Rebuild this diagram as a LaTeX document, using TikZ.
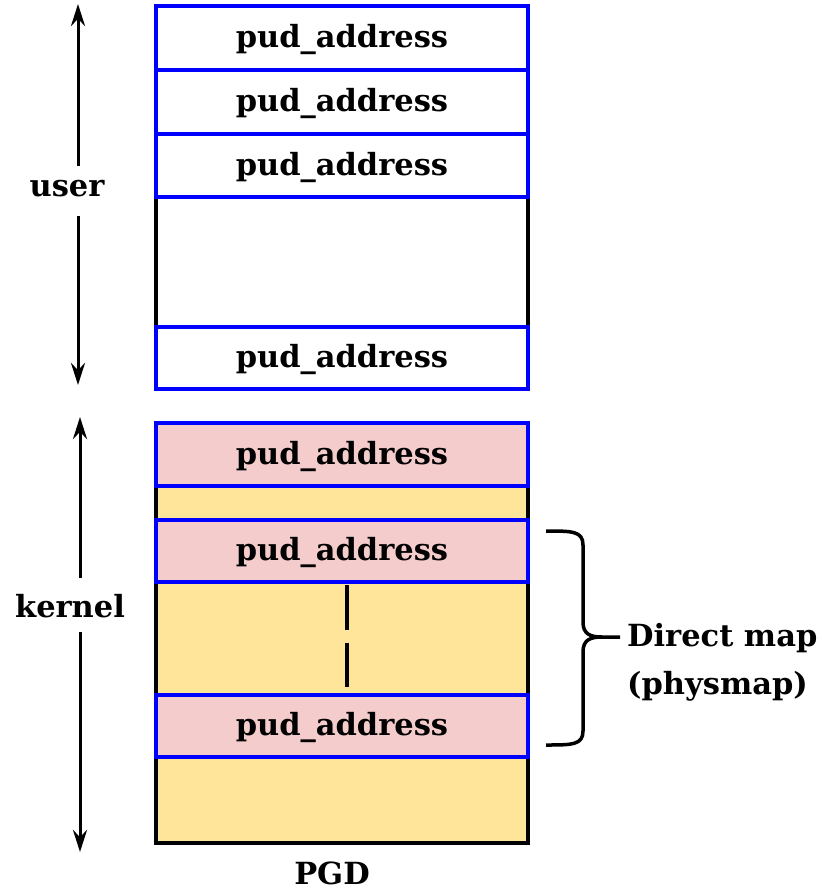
\documentclass[tikz,border=0pt]{standalone}
\usepackage{fontspec}
\setmainfont{DejaVu Serif}
\usetikzlibrary{arrows.meta}
\definecolor{cellblue}{RGB}{0,0,255}
\definecolor{pinkfill}{RGB}{244,204,204}
\definecolor{yellowfill}{RGB}{255,229,153}
\begin{document}
\begin{tikzpicture}[x=1pt,y=-1pt,
  txt/.style={font=\bfseries\fontsize{30.5}{48}\selectfont},
  cell/.style={draw=cellblue,line width=3.5pt,minimum width=372pt,inner sep=0pt,txt,
    text depth=4pt},
  lbl/.style={txt,inner sep=2pt},
  outer/.style={draw=black,line width=3.5pt},
  span/.style={line width=3pt,-{Stealth[length=22pt,width=14pt]}}]
\useasboundingbox (0,0) rectangle (821,893);
% user table
\draw[outer,fill=white] (156,6) rectangle (528,389);
\node[cell,fill=white,minimum height=64pt] (u1) at (342,38) {pud\_address};
\node[cell,fill=white,minimum height=64pt] (u2) at (342,102) {pud\_address};
\node[cell,fill=white,minimum height=63pt] (u3) at (342,165.5) {pud\_address};
\node[cell,fill=white,minimum height=62pt] (u4) at (342,358) {pud\_address};
% kernel table
\draw[outer,fill=yellowfill] (156,423) rectangle (528,843);
\node[cell,fill=pinkfill,minimum height=63pt] (k1) at (342,454.5) {pud\_address};
\node[cell,fill=pinkfill,minimum height=62pt] (k2) at (342,551) {pud\_address};
\node[cell,fill=pinkfill,minimum height=62pt] (k3) at (342,726) {pud\_address};
\coordinate (d1) at (347,585);
\coordinate (d2) at (347,687);
\draw[line width=3.5pt,dash pattern=on 45pt off 13pt] (d1) -- (d2);
% side labels
\node[lbl] (user) at (67,189) {user};
\node[lbl] (kernel) at (70,606) {kernel};
\coordinate (ut) at (78,4);
\coordinate (ub) at (78,385);
\coordinate (kt) at (80,417);
\coordinate (kb) at (80,852);
\draw[span] (78,166) -- (ut);
\draw[span] (78,216) -- (ub);
\draw[span] (80,578) -- (kt);
\draw[span] (80,632) -- (kb);
% brace
\draw[line width=3.5pt] (546,531) .. controls (572,531) and (583,531) .. (583,545) -- (583,622)
  .. controls (583,634) and (590,637) .. (602,637) -- (620,637);
\draw[line width=3.5pt] (602,637) .. controls (590,637) and (583,640) .. (583,652) -- (583,731)
  .. controls (583,745) and (572,745) .. (546,745);
\node[lbl,anchor=west,align=left,inner sep=0pt] (dm) at (627,662) {Direct map\\(physmap)};
\node[lbl,inner sep=0pt] (pgd) at (332,873) {PGD};
\end{tikzpicture}
\end{document}
